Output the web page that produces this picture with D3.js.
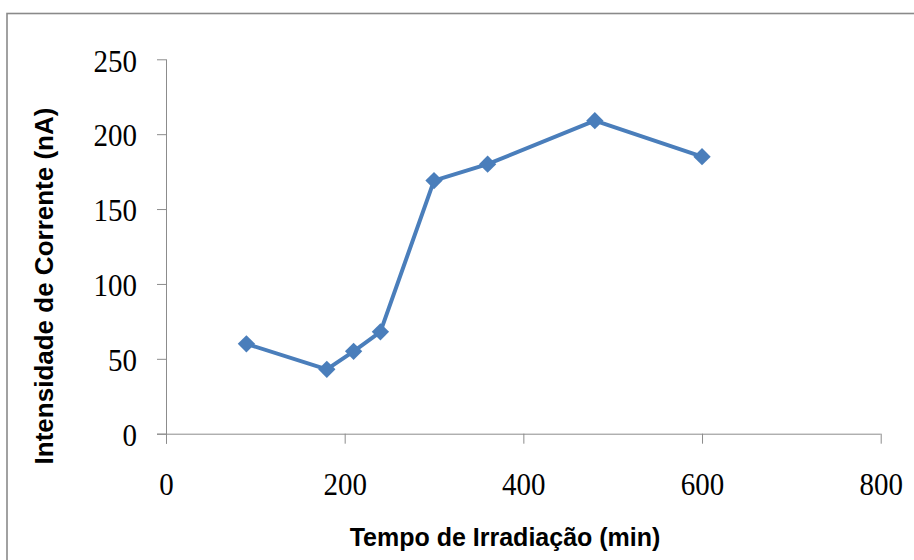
<!DOCTYPE html>
<html>
<head>
<meta charset="utf-8">
<script src="https://cdn.jsdelivr.net/npm/d3@7"></script>
<style>
  html, body { margin: 0; padding: 0; background: #fff; }
  svg { display: block; }
</style>
</head>
<body>
<script>
// Irradiation time (min) and measured current (nA)
const tempos = [90, 180, 210, 240, 300, 360, 480, 600];
const correntes = [60, 43, 55, 68, 169, 180, 209, 185];
const xTicks = [0, 200, 400, 600, 800];
const yTicks = [0, 50, 100, 150, 200, 250];
const xTitle = "Tempo de Irradiação (min)";
const yTitle = "Intensidade de Corrente (nA)";

const W = 914, H = 560;
const plot = { left: 166, right: 880.7, top: 59.3, bottom: 433.7 };

const svg = d3.select("body").append("svg")
  .attr("width", W).attr("height", H);

// chart frame (runs past the right and bottom edges)
svg.append("rect")
  .attr("x", 7).attr("y", 13.5)
  .attr("width", 930).attr("height", 580)
  .attr("fill", "#fff")
  .attr("stroke", "#8a8a8a").attr("stroke-width", 1.6);

const x = d3.scaleLinear().domain([0, 800]).range([plot.left, plot.right]);
const y = d3.scaleLinear().domain([0, 250]).range([plot.bottom, plot.top]);

const axisColor = "#8c8c8c";
const serif = "'Liberation Serif', 'Times New Roman', serif";
const sans = "'Liberation Sans', Arial, sans-serif";
const stretch = 1.12; // tick labels are drawn slightly tall

// x axis
const gx = svg.append("g")
  .attr("transform", `translate(0,${plot.bottom})`)
  .call(d3.axisBottom(x).tickValues(xTicks).tickSize(10).tickSizeOuter(0).tickPadding(0).tickFormat(d3.format("d")));
// y axis
const gy = svg.append("g")
  .attr("transform", `translate(${plot.left},0)`)
  .call(d3.axisLeft(y).tickValues(yTicks).tickSize(9).tickSizeOuter(0).tickPadding(0).tickFormat(d3.format("d")));

[gx, gy].forEach(g => {
  g.select(".domain").attr("stroke", axisColor).attr("stroke-width", 1);
  g.selectAll(".tick line").attr("stroke", axisColor).attr("stroke-width", 1);
  g.selectAll(".tick text")
    .attr("fill", "#000")
    .attr("transform", `scale(1,${stretch})`)
    .style("font-family", serif)
    .style("font-size", "29px");
});
gx.selectAll(".tick text").attr("y", 61 / stretch).attr("dy", null);
gy.selectAll(".tick text").attr("x", -29).attr("dy", "0.36em");

// axis lines: the x-axis reaches the 0 tick of y, the y-axis reaches the 0 tick of x
gx.select(".domain").attr("d", `M${plot.left - 9},0.5H${plot.right}`);
gy.select(".domain").attr("d", `M0.5,${plot.top}V${plot.bottom + 10}`);

// axis titles
svg.append("text")
  .attr("x", 505).attr("y", 546)
  .attr("text-anchor", "middle")
  .style("font-family", sans).style("font-weight", "bold").style("font-size", "25px")
  .text(xTitle);

svg.append("text")
  .attr("transform", `translate(53,${286}) rotate(-90)`)
  .attr("text-anchor", "middle")
  .style("font-family", sans).style("font-weight", "bold").style("font-size", "26px")
  .text(yTitle);

// series
const data = tempos.map((t, i) => ({ t, c: correntes[i] }));
const blue = "#4a7ebb";

svg.append("path")
  .datum(data)
  .attr("fill", "none")
  .attr("stroke", blue)
  .attr("stroke-width", 4)
  .attr("stroke-linejoin", "round")
  .attr("d", d3.line().x(d => x(d.t)).y(d => y(d.c)));

svg.append("g").selectAll("path")
  .data(data)
  .join("path")
  .attr("transform", d => `translate(${x(d.t)},${y(d.c)}) rotate(45)`)
  .attr("d", d3.symbol(d3.symbolSquare, 150))
  .attr("fill", blue);
</script>
</body>
</html>
